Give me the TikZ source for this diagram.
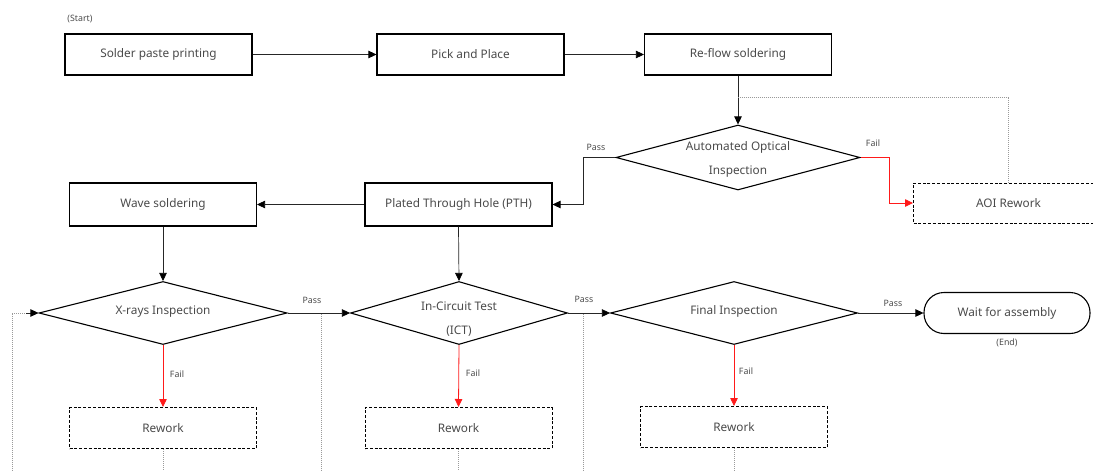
\documentclass[tikz,border=0pt]{standalone}
\usepackage{fontspec}
\setmainfont{Noto Sans}
\usetikzlibrary{shapes.geometric,arrows.meta}
\definecolor{txt}{HTML}{4A4A4A}
\definecolor{failred}{HTML}{FF1A1A}
\definecolor{loopgray}{HTML}{9A9A9A}

\begin{document}
\begin{tikzpicture}[x=1pt,y=-1pt,
  every node/.style={font=\fontsize{11.8}{14}\selectfont, text=txt},
  procbox/.style={draw=black, line width=1.1pt, rectangle, minimum width=187pt, minimum height=41pt, inner sep=0pt},
  reworkbox/.style={procbox, line width=1pt, dash pattern=on 3pt off 1.8pt},
  decision/.style={draw=black, line width=1.1pt, diamond, aspect=4, inner sep=0pt, minimum width=248pt, minimum height=63pt},
  terminal/.style={draw=black, line width=1.1pt, rectangle, rounded corners=20pt, minimum width=166pt, minimum height=41pt},
  small/.style={font=\fontsize{8.8}{10}\selectfont, text=txt},
  tip/.style={-{Triangle[length=8pt,width=7.5pt,color=black]}},
  flow/.style={draw=black!85, line width=0.7pt, tip},
  failflow/.style={draw=failred, line width=0.8pt, -{Triangle[length=8pt,width=7.5pt,color=failred]}},
  loopline/.style={draw=loopgray, line width=0.6pt, dash pattern=on 1pt off 1pt},
]
\useasboundingbox (0,0) rectangle (1093,471);
\clip (0,0) rectangle (1093,471);

% Surface-mount line
\node[small] (start) at (80,19) {(Start)};
\node[procbox] (solder) at (158.5,54.5) {Solder paste printing};
\node[procbox] (pick) at (470.5,54.5) {Pick and Place};
\node[procbox] (reflow) at (738,54.5) {Re-flow soldering};

\node[decision, minimum height=65pt, minimum width=244pt] (aoi) at (738,157.5) {};
\node at (738,147) {Automated Optical};
\node at (738,172) {Inspection};
\node[reworkbox, minimum width=190pt, minimum height=40pt] (aoirw) at (1008.5,203) {AOI Rework};

% Through-hole line
\node[procbox, minimum height=43pt] (pth) at (458.5,204.5) {Plated Through Hole (PTH)};
\node[procbox, minimum height=43pt] (wave) at (163,204.5) {Wave soldering};

% Test stations
\node[decision, minimum width=248pt] (xray) at (163,313) {};
\node at (163,311.5) {X-rays Inspection};
\node[decision, minimum width=217pt] (ict) at (459,313) {};
\node at (459,306) {In-Circuit Test};
\node at (459,331) {(ICT)};
\node[decision, minimum width=247pt] (final) at (734,313) {};
\node at (734,311.5) {Final Inspection};
\node[terminal] (wait) at (1007,313) {Wait for assembly};
\node[small] (endlbl) at (1007,342.5) {(End)};

\node[reworkbox] (rw1) at (163,428) {Rework};
\node[reworkbox] (rw2) at (458.5,428) {Rework};
\node[reworkbox] (rw3) at (734,427) {Rework};

% Main flow
\draw[flow] (solder.east) -- (pick.west);
\draw[flow] (pick.east) -- (reflow.west);
\draw[flow] (reflow.south) -- (aoi.north);
\draw[flow] (aoi.west) -- ++(-32,0) |- (pth.east);
\draw[failflow] (aoi.east) -- ++(29,0) |- (aoirw.west);
\draw[flow] (pth.west) -- (wave.east);
\draw[flow] (wave.south) -- (xray.north);
\draw[flow] (pth.south) -- (ict.north);
\draw[flow] (xray.east) -- (ict.west);
\draw[flow] (ict.east) -- (final.west);
\draw[flow] (final.east) -- (wait.west);

% Pass / Fail labels
\node[small] at (596,147) {Pass};
\node[small] at (873,143) {Fail};
\node[small] at (312,300.5) {Pass};
\node[small] at (584,299) {Pass};
\node[small] at (893,303) {Pass};
\node[small] at (177,374) {Fail};
\node[small] at (473,373) {Fail};
\node[small] at (746,371) {Fail};

\draw[failflow] (xray.south) -- (rw1.north);
\draw[failflow] (ict.south) -- (rw2.north);
\draw[failflow] (final.south) -- (rw3.north);

% Return paths after rework
\draw[loopline] (aoirw.north) |- ([yshift=-22pt]reflow.south);
\coordinate (ret1) at (12,471);
\coordinate (ret2) at (321,471);
\coordinate (ret3) at (583,471);
\draw[loopline] (ret1) |- (xray.west);
\draw[black!85, line width=0.7pt, tip] ([xshift=-12pt]xray.west) -- (xray.west);
\draw[loopline] (ret2) -- (ret2 |- xray.east);
\draw[loopline] (ret3) -- (ret3 |- ict.east);
\draw[loopline] (rw1.south) -- (rw1.south |- ret1);
\draw[loopline] (rw2.south) -- (rw2.south |- ret1);
\draw[loopline] (rw3.south) -- (rw3.south |- ret1);
\end{tikzpicture}
\end{document}
